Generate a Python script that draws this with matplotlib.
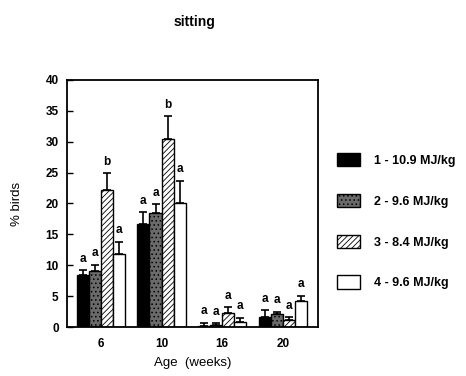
import matplotlib
matplotlib.use("Agg")
import matplotlib.pyplot as plt
import numpy as np

plt.rcParams['font.family'] = ['Liberation Sans', 'DejaVu Sans']
plt.rcParams['hatch.linewidth'] = 0.6

ages = ['6', '10', '16', '20']
series_labels = ['1 - 10.9 MJ/kg', '2 - 9.6 MJ/kg', '3 - 8.4 MJ/kg', '4 - 9.6 MJ/kg']
means = [
    [8.4, 16.6, 0.2, 1.7],
    [9.1, 18.5, 0.4, 2.1],
    [22.2, 30.4, 2.2, 1.2],
    [11.8, 20.1, 0.8, 4.2],
]
errors = [
    [0.8, 2.0, 0.5, 1.0],
    [1.0, 1.4, 0.2, 0.4],
    [2.7, 3.7, 1.0, 0.4],
    [2.0, 3.6, 0.7, 0.9],
]
letters = [
    ['a', 'a', 'a', 'a'],
    ['a', 'a', 'a', 'a'],
    ['b', 'b', 'a', 'a'],
    ['a', 'a', 'a', 'a'],
]

styles = [
    dict(facecolor='black', edgecolor='black', hatch=None),
    dict(facecolor='#6a6a6a', edgecolor='black', hatch='....'),
    dict(facecolor='white', edgecolor='black', hatch='//////'),
    dict(facecolor='white', edgecolor='black', hatch=None),
]

fig = plt.figure(figsize=(4.66, 3.76), dpi=100)
ax = fig.add_axes([0.1438, 0.1303, 0.5386, 0.657])

x = np.arange(len(ages))
w = 0.2
handles = []
for i in range(4):
    pos = x + (i - 1.5) * w
    b = ax.bar(pos, means[i], width=w, linewidth=1.0, **styles[i], label=series_labels[i])
    handles.append(b)
    ax.errorbar(pos, means[i], yerr=[np.zeros(4), errors[i]], fmt='none',
                ecolor='black', elinewidth=1.2, capsize=3, capthick=1.2)
    for j in range(4):
        ax.text(pos[j], means[i][j] + errors[i][j] + 0.9, letters[i][j],
                ha='center', va='bottom', fontsize=8.5, fontweight='bold')

ax.set_xlim(-0.56, 3.58)
ax.set_ylim(0, 40)
ax.set_yticks(range(0, 41, 5))
ax.set_xticks(x)
ax.set_xticklabels(ages)
ax.tick_params(axis='y', direction='in', length=4, width=1, labelsize=8.5, pad=6)
ax.tick_params(axis='x', length=0, labelsize=8.5, pad=8)
for lab in ax.get_xticklabels() + ax.get_yticklabels():
    lab.set_fontweight('bold')
for s in ax.spines.values():
    s.set_linewidth(1.3)

ax.set_ylabel('% birds', fontsize=9.5, labelpad=16)
ax.set_xlabel('Age  (weeks)', fontsize=9.5, labelpad=5)

fig.text(0.418, 0.941, 'sitting', ha='center', va='center', fontsize=10, fontweight='bold')

fig.legend(handles=handles, labels=series_labels, loc='center left',
           bbox_to_anchor=(0.699, 0.412), frameon=False,
           prop=dict(size=9, weight='bold'),
           handlelength=1.85, handleheight=1.3, handletextpad=1.1,
           labelspacing=2.15)

fig.savefig('out.png', dpi=100)
